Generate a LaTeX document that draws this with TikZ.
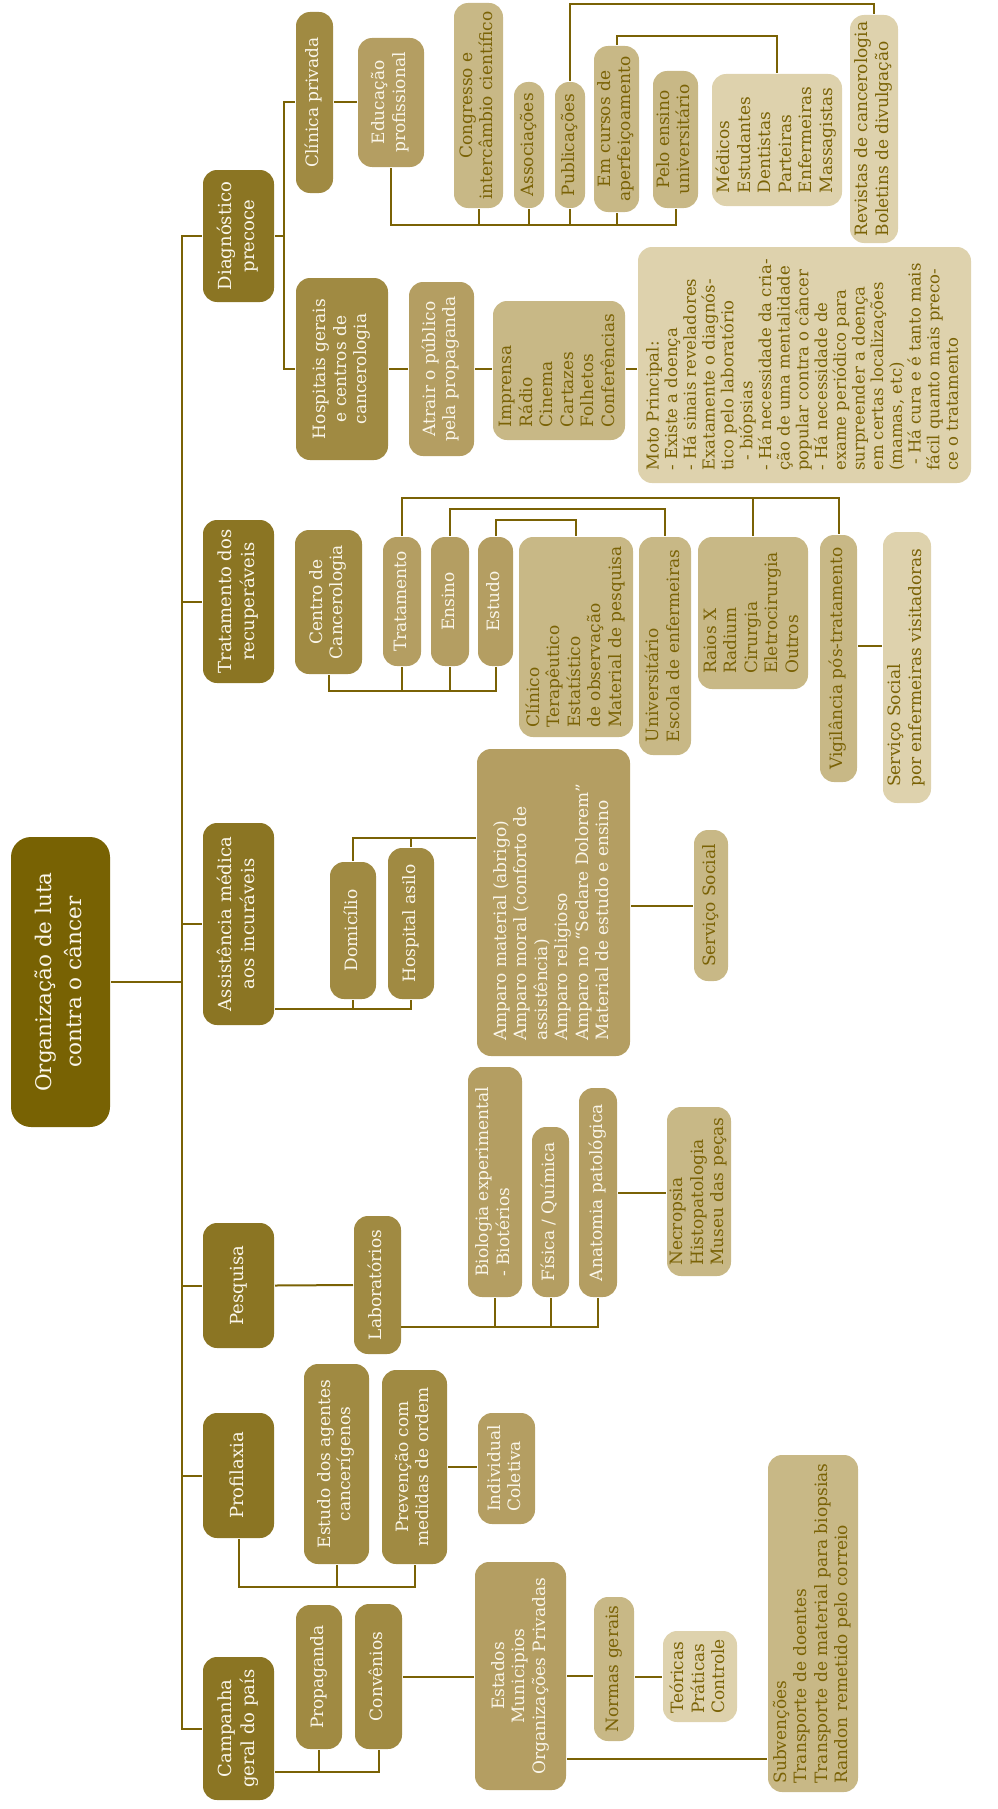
\documentclass[tikz,border=0pt]{standalone}
\usepackage{fontspec}
\setmainfont{DejaVu Serif}
\usepackage{graphicx}

\definecolor{cRoot}{HTML}{786203}
\definecolor{cOne}{HTML}{8B7523}
\definecolor{cTwo}{HTML}{A08A42}
\definecolor{cThree}{HTML}{B49E62}
\definecolor{cFour}{HTML}{C8B886}
\definecolor{cFive}{HTML}{DED2AD}
\definecolor{cLine}{HTML}{7A6205}
\definecolor{cLight}{HTML}{FAF6EA}
\colorlet{cDark}{cLine}

% rotated text blocks (centred / left aligned)
\newcommand{\vtc}[1]{\rotatebox{90}{\begin{tabular}{@{}c@{}}#1\end{tabular}}}
\newcommand{\vtl}[1]{\rotatebox{90}{\begin{tabular}{@{}l@{}}#1\end{tabular}}}

\tikzset{
  box/.style={rounded corners=14pt, inner sep=0pt, font=\fontsize{17}{20.5}\selectfont},
  sz/.style 2 args={minimum width=#1pt, minimum height=#2pt},
  lvroot/.style={box, rounded corners=20pt, fill=cRoot, text=cLight, font=\fontsize{21.5}{30}\selectfont},
  lvone/.style={box, fill=cOne, text=cLight, font=\fontsize{18}{23.5}\selectfont},
  lvtwo/.style={box, fill=cTwo, text=cLight},
  lvthree/.style={box, fill=cThree, text=cLight},
  lvfour/.style={box, fill=cFour, text=cDark},
  lvfive/.style={box, fill=cFive, text=cDark},
}

\begin{document}
\begin{tikzpicture}[x=1pt,y=-1pt,line width=2pt,color=cLine]
  \useasboundingbox (0,0) rectangle (997,1809);

  % root and main branches
  \node[lvroot, sz={99}{290}] (root) at (60.5,982) {\vtc{Organização de luta\\contra o câncer}};
  \node[lvone, sz={71}{132}] (diag)   at (238.5,236)    {\vtc{Diagnóstico\\precoce}};
  \node[lvone, sz={71}{163}] (trat)   at (238.5,601.5)  {\vtc{Tratamento dos\\recuperáveis}};
  \node[lvone, sz={71}{202}] (assist) at (238.5,924)    {\vtc{Assistência médica\\aos incuráveis}};
  \node[lvone, sz={71}{125}] (pesq)   at (238.5,1285.5) {\vtc{Pesquisa}};
  \node[lvone, sz={71}{125}] (profi)  at (238.5,1475.5) {\vtc{Profilaxia}};
  \node[lvone, sz={71}{143}] (camp)   at (238.5,1728.5) {\vtc{Campanha\\geral do país}};

  % Diagnostico precoce
  \node[lvtwo, sz={37}{181}]   (clin)   at (314.5,102.5) {\vtc{Clínica privada}};
  \node[lvthree, sz={66}{129}] (educ)   at (391,102.5)   {\vtc{Educação\\profissional}};
  \node[lvfour, sz={49}{205}]  (cong)   at (478.5,105.5) {\vtc{Congresso e\\intercâmbio científico}};
  \node[lvfour, sz={30}{126}]  (assoc)  at (529,145)     {\vtc{Associações}};
  \node[lvfour, sz={30}{126}]  (publ)   at (570,145)     {\vtc{Publicações}};
  \node[lvfour, sz={45}{166}]  (cursos) at (616.5,129)   {\vtc{Em cursos de\\aperfeiçoamento}};
  \node[lvfour, sz={45}{137}]  (pelo)   at (675.5,139.5) {\vtc{Pelo ensino\\universitário}};
  \node[lvfive, sz={130}{132}] (med)    at (777,140)     {\vtl{Médicos\\Estudantes\\Dentistas\\Parteiras\\Enfermeiras\\Massagistas}};
  \node[lvfive, sz={48}{228}]  (rev)    at (874,129)     {\vtl{Revistas de cancerologia\\Boletins de divulgação}};
  \node[lvtwo, sz={92}{182}]   (hosp)   at (342,369)     {\vtc{Hospitais gerais\\e centros de\\cancerologia}};
  \node[lvthree, sz={65}{174}] (atrair) at (441.5,369)   {\vtc{Atrair o público\\pela propaganda}};
  \node[lvfour, sz={132}{139}] (imp)    at (559,370.5)   {\vtl{Imprensa\\Rádio\\Cinema\\Cartazes\\Folhetos\\Conferências}};
  \node[lvfive, sz={333}{236}, font=\fontsize{16.5}{18.6}\selectfont] (moto) at (804.5,365)
    {\vtl{Moto Principal:\\- Existe a doença\\- Há sinais reveladores\\Exatamente o diagnós-\\tico pelo laboratório\\\hspace*{10pt}- biópsias\\- Há necessidade da cria-\\ção de uma mentalidade\\popular contra o câncer\\- Há necessidade de\\exame periódico para\\surpreender a doença\\em certas localizações\\(mamas, etc)\\\hspace*{6pt}- Há cura e é tanto mais\\fácil quanto mais preco-\\ce o tratamento}};

  % Tratamento dos recuperaveis
  \node[lvtwo, sz={67}{144}]    (centro)  at (328.5,602)  {\vtc{Centro de\\Cancerologia}};
  \node[lvthree, sz={38}{129}]  (tratm)   at (402,601.5)  {\vtc{Tratamento}};
  \node[lvthree, sz={38}{129}]  (ensino)  at (450,601.5)  {\vtc{Ensino}};
  \node[lvthree, sz={35}{129}]  (estudo)  at (495.5,601.5){\vtc{Estudo}};
  \node[lvfour, sz={114}{200}]  (clinico) at (576,637)    {\vtl{Clínico\\Terapêutico\\Estatístico\\de observação\\Material de pesquisa}};
  \node[lvfour, sz={52}{218}]   (univ)    at (665,646)    {\vtl{Universitário\\Escola de enfermeiras}};
  \node[lvfour, sz={110}{152}]  (raios)   at (753,613)    {\vtl{Raios X\\Radium\\Cirurgia\\Eletrocirurgia\\Outros}};
  \node[lvfour, sz={37}{247}]   (vigil)   at (838.5,658.5){\vtc{Vigilância pós-tratamento}};
  \node[lvfive, sz={48}{271}]   (servenf) at (907,667.5)  {\vtl{Serviço Social\\por enfermeiras visitadoras}};

  % Assistencia medica aos incuraveis
  \node[lvtwo, sz={46}{137}]    (dom)    at (353,930.5)  {\vtc{Domicílio}};
  \node[lvtwo, sz={46}{151}]    (hasilo) at (411,923.5)  {\vtc{Hospital asilo}};
  \node[lvthree, sz={153}{307}] (amparo) at (553.5,902.5)
    {\vtl{Amparo material (abrigo)\\Amparo moral (conforto de\\assistência)\\Amparo religioso\\Amparo no “Sedare Dolorem”\\Material de estudo e ensino\hspace*{36pt}}};
  \node[lvfour, sz={34}{151}]   (servs)  at (711,905.5)  {\vtc{Serviço Social}};

  % Pesquisa
  \node[lvtwo, sz={47}{138}]   (lab)   at (377.5,1285) {\vtc{Laboratórios}};
  \node[lvthree, sz={54}{230}] (bio)   at (495,1182)   {\vtl{Biologia experimental\\- Biotérios}};
  \node[lvthree, sz={37}{170}] (fisq)  at (550.5,1212) {\vtc{Física / Química}};
  \node[lvthree, sz={38}{209}] (anat)  at (598,1192.5) {\vtc{Anatomia patológica}};
  \node[lvfour, sz={64}{169}]  (necro) at (699,1191.5) {\vtl{Necropsia\\Histopatologia\\Museu das peças}};

  % Profilaxia
  \node[lvtwo, sz={65}{200}]   (estag) at (336.5,1464)  {\vtc{Estudo dos agentes\\cancerígenos}};
  \node[lvtwo, sz={65}{194}]   (prev)  at (414.5,1467)  {\vtc{Prevenção com\\medidas de ordem}};
  \node[lvthree, sz={57}{111}] (indiv) at (506.5,1468.5){\vtl{Individual\\Coletiva}};

  % Campanha geral do pais
  \node[lvtwo, sz={46}{144}]   (propag)  at (319,1677)    {\vtc{Propaganda}};
  \node[lvtwo, sz={47}{145}]   (conv)    at (378.5,1676.5){\vtc{Convênios}};
  \node[lvthree, sz={91}{228}] (estados) at (520.5,1676)  {\vtc{Estados\\Municipios\\Organizações Privadas}};
  \node[lvfour, sz={40}{144}]  (normas)  at (614,1669)    {\vtc{Normas gerais}};
  \node[lvfive, sz={74}{91}]   (teor)    at (700,1676.5)  {\vtl{Teóricas\\Práticas\\Controle}};
  \node[lvfour, sz={90}{337}]  (subv)    at (813,1623.5)
    {\vtl{Subvenções\\Transporte de doentes\\Transporte de material para biopsias\\Randon remetido pelo correio}};

  % trunk
  \coordinate (trunk) at (182,982);
  \draw (root.east) -- (trunk);
  \foreach \n in {diag,trat,assist,pesq,profi,camp}
    \draw (trunk) |- (\n.west);

  % connectors: Diagnostico precoce
  \draw (diag.east) -- ++(9,0) coordinate (dj) |- (clin.west);
  \draw (dj) |- (hosp.west);
  \draw (clin.east) -- (educ.west);
  \coordinate (edubus) at (391,225);
  \draw (educ.south) -- (edubus) -| (pelo.south);
  \foreach \n in {cong,assoc,publ,cursos}
    \draw (\n.south) -- (\n.south |- edubus);
  \draw (publ.north) -- ++(0,-77) -| (rev.north);
  \draw (cursos.north) -- ++(0,-9) -| (med.north);
  \draw (hosp.east) -- (atrair.west);
  \draw (atrair.east) -- (atrair.east -| imp.west);
  \draw (atrair.east -| imp.east) -- (atrair.east -| moto.west);

  % connectors: Tratamento dos recuperaveis
  \coordinate (ccbus) at (328.5,691);
  \draw (centro.south) -- (ccbus) -| (estudo.south);
  \foreach \n in {tratm,ensino}
    \draw (\n.south) -- (\n.south |- ccbus);
  \coordinate (trbus) at (402,498);
  \draw (tratm.north) -- (trbus) -| (vigil.north);
  \draw (raios.north) -- (raios.north |- trbus);
  \draw (ensino.north) -- ++(0,-27) -| (univ.north);
  \draw (estudo.north) -- ++(0,-16) -| (clinico.north);
  \coordinate (vsbus) at (870,646);
  \draw (vigil.east |- vsbus) -- (vsbus -| servenf.west);

  % connectors: Assistencia medica
  \coordinate (asbus) at (411,1009);
  \draw (assist.east |- asbus) -- (asbus) -- (hasilo.south);
  \draw (dom.south) -- (dom.south |- asbus);
  \coordinate (ambus) at (353,838);
  \draw (dom.north) -- (ambus) -- (ambus -| amparo.west);
  \draw (hasilo.north) -- (hasilo.north |- ambus);
  \draw (servs.west -| amparo.east) -- (servs.west);

  % connectors: Pesquisa
  \draw (pesq.east) -- (lab.west);
  \coordinate (labbus) at (401,1327);
  \draw (lab.east |- labbus) -- (labbus) -| (anat.south);
  \foreach \n in {bio,fisq}
    \draw (\n.south) -- (\n.south |- labbus);
  \draw (anat.east) -- (anat.east -| necro.west);

  % connectors: Profilaxia
  \coordinate (pfbus) at (238.5,1587);
  \draw (profi.south) -- (pfbus) -| (prev.south);
  \draw (estag.south) -- (estag.south |- pfbus);
  \draw (prev.east) -- (prev.east -| indiv.west);

  % connectors: Campanha
  \coordinate (cpbus) at (378.5,1772);
  \draw (camp.east |- cpbus) -- (cpbus) -- (conv.south);
  \draw (propag.south) -- (propag.south |- cpbus);
  \draw (conv.east) -- (conv.east -| estados.west);
  \draw (estados.east) -- (estados.east -| normas.west);
  \draw (normas.east |- teor.west) -- (teor.west);
  \coordinate (subus) at (700,1759);
  \draw (estados.east |- subus) -- (subus -| subv.west);
\end{tikzpicture}
\end{document}
